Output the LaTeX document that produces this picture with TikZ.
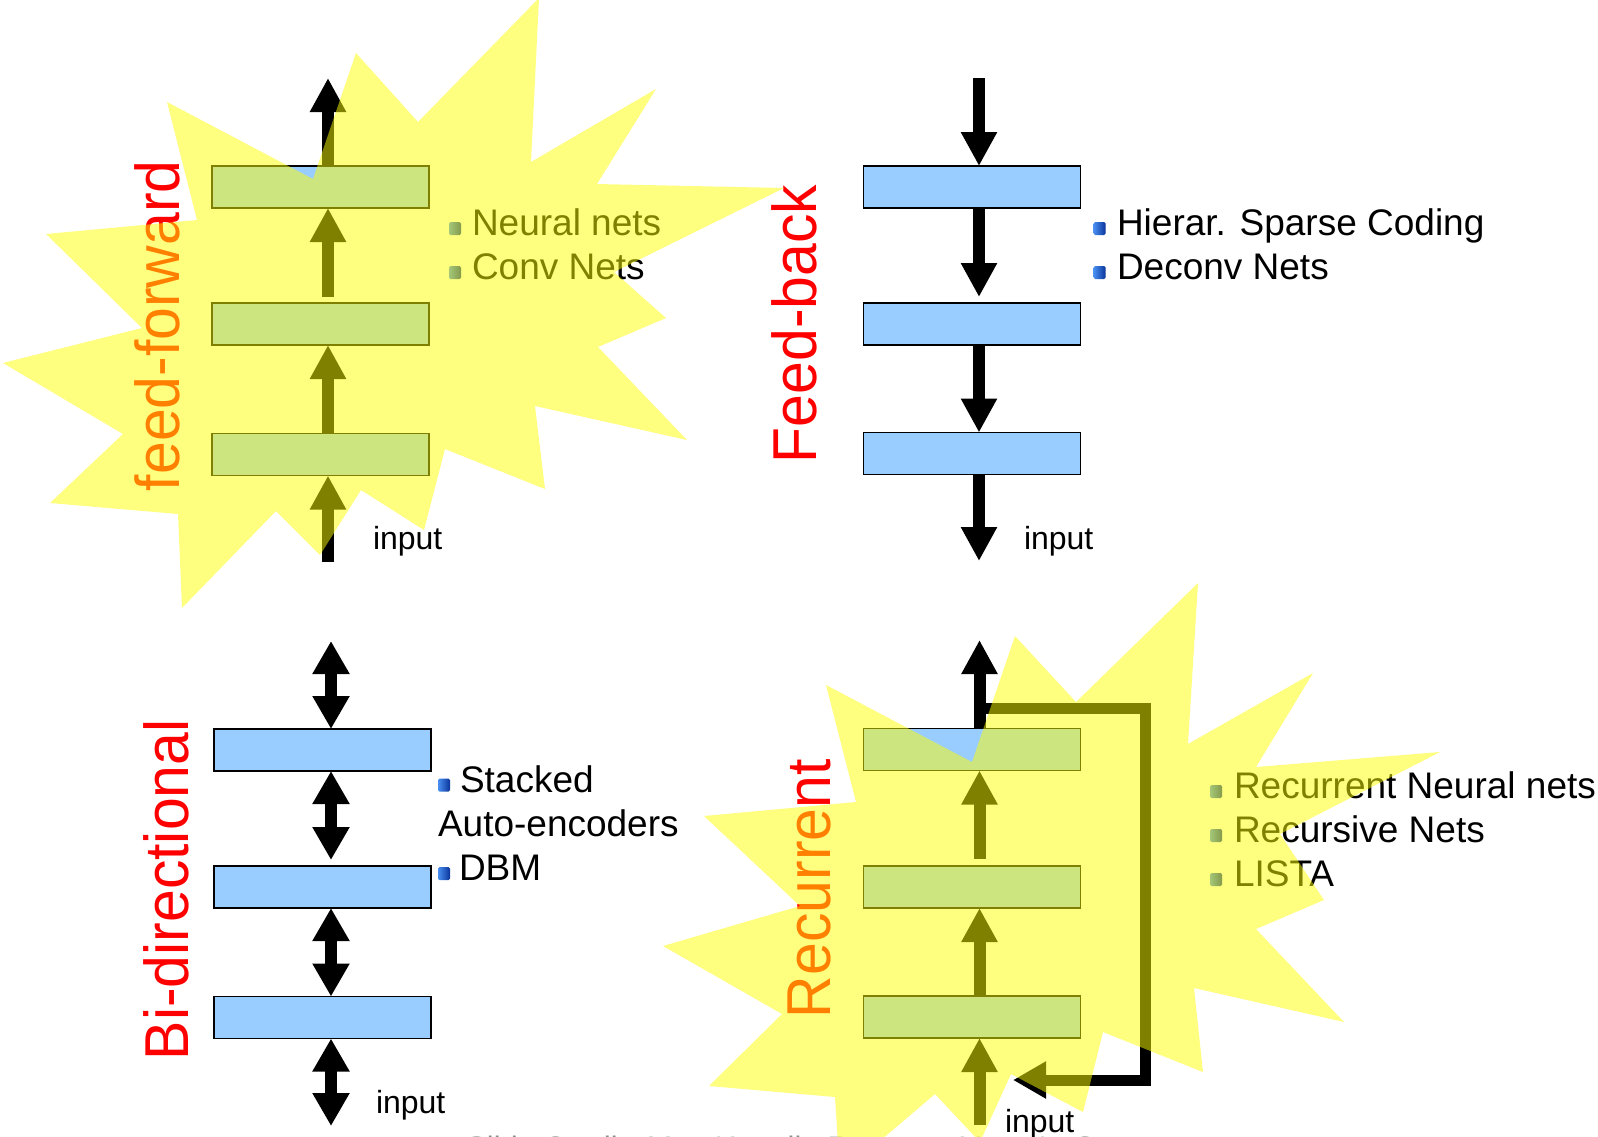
\documentclass[tikz,border=0pt]{standalone}
\usepackage{graphicx}
\usepackage{fontspec}
\setmainfont{Liberation Sans}
\usetikzlibrary{arrows.meta,calc}

\definecolor{boxblue}{HTML}{99CCFF}
\definecolor{labred}{HTML}{FF0000}
\definecolor{burstyellow}{HTML}{FFFF00}
\definecolor{creditgrey}{HTML}{8C8C8C}
\definecolor{bulletdark}{HTML}{0A349A}
\definecolor{bulletlight}{HTML}{4A90F2}

\newcommand{\fsz}[1]{\fontsize{#1pt}{#1pt}\selectfont}

\tikzset{
  netbox/.style={draw=black, line width=1.6pt, fill=boxblue,
    minimum width=217pt, minimum height=42pt, inner sep=0pt, outer sep=0pt},
  upflow/.style={line width=12pt, -{Triangle[width=34pt,length=34pt]}},
  twoway/.style={line width=12pt,
    {Triangle[width=35pt,length=33pt]}-{Triangle[width=35pt,length=33pt]}},
  loopback/.style={line width=11pt, line join=miter,
    -{Triangle[width=35pt,length=33pt]}},
  listtext/.style={font=\fsz{37}, anchor=base west, inner sep=0pt, outer sep=0pt},
  bulletsq/.style={left color=bulletlight, right color=bulletdark,
    minimum width=12pt, minimum height=13pt, inner sep=0pt, outer sep=0pt,
    rounded corners=1.5pt},
  sidetitle/.style={font=\fsz{62}, text=labred, rotate=90, anchor=base west,
    inner sep=0pt, outer sep=0pt},
  inlabel/.style={font=\fsz{32}, anchor=base west, inner sep=0pt, outer sep=0pt},
  burst/.style={fill=burstyellow, fill opacity=0.5, draw=none},
}

\begin{document}
\begin{tikzpicture}[x=1pt, y=-1pt]
\useasboundingbox (0,0) rectangle (1598,1136);
\clip (0,0) rectangle (1598,1136);

% ---------------- feed-forward (top left) ----------------
\node[netbox] (ff1) at (320.5,187) {};
\node[netbox] (ff2) at (320.5,324) {};
\node[netbox] (ff3) at (320.5,454.5) {};
\coordinate (ffx) at (328,0);
\coordinate (ffout) at (328,78);
\coordinate (ffin) at (328,562);
\draw[upflow] (ff1.north -| ffx) -- (ffout);
\draw[upflow, shorten <=6pt] (ff2.north -| ffx) -- (ff1.south -| ffx);
\draw[upflow] (ff3.north -| ffx) -- (ff2.south -| ffx);
\draw[upflow] (ffin) -- (ff3.south -| ffx);
\node[inlabel] (ffinput) at (373,549) {input};
\node[sidetitle] (fftitle) at (179,491) {\scalebox{0.95}[1]{feed-forward}};
\node[bulletsq] (ffb1) at (455,228.5) {};
\node[bulletsq] (ffb2) at (455,272.5) {};
\node[listtext] (fft1) at (472,235) {Neural nets};
\node[listtext] (fft2) at (472,279) {Conv Nets};

% ---------------- feed-back (top right) ----------------
\node[netbox] (fb1) at (972,187) {};
\node[netbox] (fb2) at (972,324) {};
\node[netbox] (fb3) at (972,453.5) {};
\coordinate (fbx) at (979,0);
\coordinate (fbtop) at (979,78);
\coordinate (fbbot) at (979,561);
\draw[upflow] (fbtop) -- (fb1.north -| fbx);
\draw[upflow, shorten >=6pt] (fb1.south -| fbx) -- (fb2.north -| fbx);
\draw[upflow] (fb2.south -| fbx) -- (fb3.north -| fbx);
\draw[upflow] (fb3.south -| fbx) -- (fbbot);
\node[inlabel] (fbinput) at (1024,549) {input};
\node[sidetitle] (fbtitle) at (816,463) {\scalebox{0.95}[1]{Feed-back}};
\node[bulletsq] (fbb1) at (1099.5,228.5) {};
\node[bulletsq] (fbb2) at (1099.5,272.5) {};
\node[listtext] (fbt1) at (1117,235) {Hierar. Sparse Coding};
\node[listtext] (fbt2) at (1117,279) {Deconv Nets};

% ---------------- bi-directional (bottom left) ----------------
\node[netbox] (bi1) at (322.5,750) {};
\node[netbox] (bi2) at (322.5,887) {};
\node[netbox] (bi3) at (322.5,1017.5) {};
\coordinate (bix) at (331,0);
\coordinate (bitop) at (331,641);
\coordinate (bibot) at (331,1126);
\draw[twoway] (bitop) -- (bi1.north -| bix);
\draw[twoway, shorten >=6pt] (bi1.south -| bix) -- (bi2.north -| bix);
\draw[twoway] (bi2.south -| bix) -- (bi3.north -| bix);
\draw[twoway] (bi3.south -| bix) -- (bibot);
\node[inlabel] (biinput) at (376,1113) {input};
\node[sidetitle] (bititle) at (188,1060) {\scalebox{0.95}[1]{Bi-directional}};
\node[bulletsq] (bib1) at (444,785) {};
\node[bulletsq] (bib2) at (444,873.5) {};
\node[listtext] (bit1) at (460,792) {Stacked};
\node[listtext] (bit2) at (438,836) {Auto-encoders};
\node[listtext] (bit3) at (459,880) {DBM};

% ---------------- recurrent (bottom right) ----------------
\node[netbox] (rc1) at (972,749.5) {};
\node[netbox] (rc2) at (972,887) {};
\node[netbox] (rc3) at (972,1017) {};
\coordinate (rcx) at (979.5,0);
\coordinate (rctop) at (979.5,640);
\coordinate (rcin) at (979.5,1125);
\draw[upflow] (rc1.north -| rcx) -- (rctop);
\draw[upflow, shorten <=7pt] (rc2.north -| rcx) -- (rc1.south -| rcx);
\draw[upflow] (rc3.north -| rcx) -- (rc2.south -| rcx);
\draw[upflow] (rcin) -- (rc3.south -| rcx);
% feedback loop from the top output back to the input
\coordinate (lp0) at (979.5,708);
\coordinate (lp1) at (1145,708);
\coordinate (lp2) at (1145,1080);
\coordinate (lpend) at (1013,1080);
\draw[loopback] (lp0) -- (lp1) -- (lp2) -- (lpend);
\node[inlabel] (rcinput) at (1005,1132) {input};
\node[sidetitle] (rctitle) at (830,1018) {\scalebox{0.95}[1]{Recurrent}};
\node[bulletsq] (rcb1) at (1216,791.5) {};
\node[bulletsq] (rcb2) at (1216,835.5) {};
\node[bulletsq] (rcb3) at (1216,879.5) {};
\node[listtext] (rct1) at (1234,798) {Recurrent Neural nets};
\node[listtext] (rct2) at (1234,842) {Recursive Nets};
\node[listtext] (rct3) at (1234,886) {LISTA};

% footer credit (mostly below the edge)
\node[font=\fsz{31}, text=creditgrey, anchor=base west, inner sep=0pt]
  (credit) at (466,1158) {Slide Credit: Marc'Aurelio Ranzato, Yann LeCun};

% ---------------- highlight bursts ----------------
\fill[burst] (539,-2) -- (531,162) -- (656,89) -- (597,184) -- (784,188)
  -- (614,272) -- (666,318) -- (598,347) -- (687,440) -- (535,406)
  -- (545,489) -- (445,449) -- (424,530) -- (361,490) -- (320,555)
  -- (276,511) -- (182,608) -- (178,514) -- (50,503) -- (123,434)
  -- (3,363) -- (142,328) -- (46,234) -- (197,220) -- (167,102)
  -- (313,179) -- (356,53) -- (418,122) -- cycle;

\fill[burst] (1198,583) -- (1188,744) -- (1313,673) -- (1256,767) -- (1440,752)
  -- (1280,834) -- (1324,900) -- (1256,929) -- (1344,1022) -- (1194,988)
  -- (1203,1072) -- (1103,1032) -- (1083,1112) -- (1011,1074) -- (980,1142)
  -- (935,1094) -- (840,1175) -- (835,1097) -- (709,1086) -- (782,1014)
  -- (663,946) -- (800,906) -- (704,816) -- (856,802) -- (826,685)
  -- (972,762) -- (1015,636) -- (1076,702) -- cycle;
\end{tikzpicture}
\end{document}
